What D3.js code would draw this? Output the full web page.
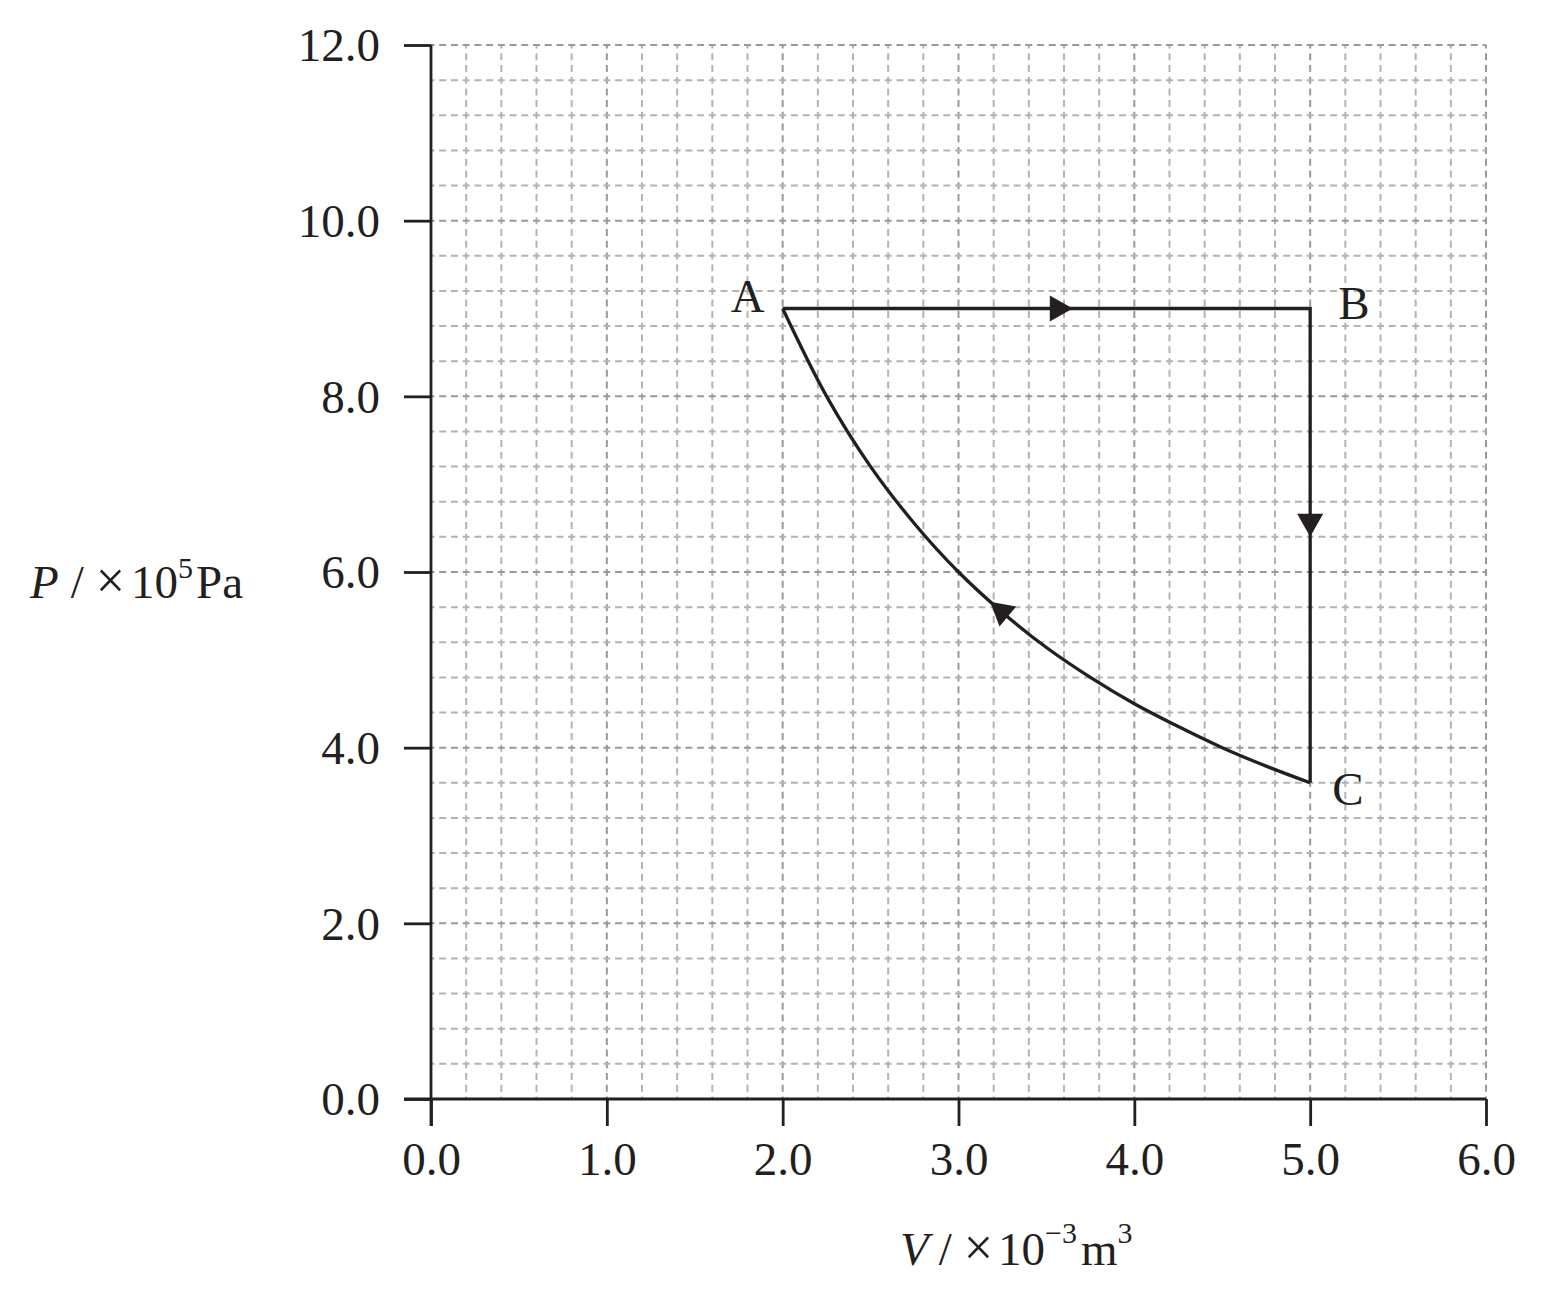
<!DOCTYPE html>
<html><head><meta charset="utf-8">
<script src="https://cdn.jsdelivr.net/npm/d3@7"></script>
<style>body{margin:0;background:#fff}</style>
</head><body>
<script>
// ---- data ----
const xTicks = [0, 1, 2, 3, 4, 5, 6];
const yTicks = [0, 2, 4, 6, 8, 10, 12];
const xMinor = d3.range(0, 30.5, 1).map(i => i * 0.2);
const yMinor = d3.range(0, 30.5, 1).map(i => i * 0.4);
// process A -> B (isobaric), B -> C (isochoric)
const pathAB = [[2.0, 9.0], [5.0, 9.0]];
const pathBC = [[5.0, 9.0], [5.0, 3.6]];
// curve C -> A
const curveV = [2.0, 2.25, 2.5, 2.75, 3.0, 3.25, 3.5, 3.75, 4.0, 4.25, 4.5, 4.75, 5.0];
const curveP = [9.0, 8.0, 7.2, 6.55, 6.0, 5.54, 5.14, 4.8, 4.5, 4.24, 4.0, 3.79, 3.6];
const pointLabels = [{t: "A", v: 2.0, p: 9.0}, {t: "B", v: 5.0, p: 9.0}, {t: "C", v: 5.0, p: 3.6}];
// arrows: tip position and a second point giving direction
const arrows = [
  {tip: [3.65, 9.0], from: [3.5, 9.0]},
  {tip: [5.0, 6.4], from: [5.0, 6.7]},
  {tip: [3.18, 5.66], from: [3.3, 5.46]}
];

const W = 1542, H = 1291;
const svg = d3.select("body").append("svg").attr("width", W).attr("height", H);
const x = d3.scaleLinear().domain([0, 6]).range([431, 1486]);
const y = d3.scaleLinear().domain([0, 12]).range([1099, 45]);
const ink = "#231f20";
const font = "'Liberation Serif', 'Times New Roman', serif";

// grid
const g = svg.append("g");
const per = (x(0.2) - x(0)) / 3;
g.selectAll(".vx").data(xMinor.filter(v => v > 0.01)).join("line")
  .attr("x1", d => x(d)).attr("x2", d => x(d)).attr("y1", y(12)).attr("y2", y(0))
  .attr("stroke", d => Math.abs(d - Math.round(d)) < 1e-6 ? "#999999" : "#b3b3b3")
  .attr("stroke-width", 2)
  .attr("stroke-dasharray", `7,${per - 7}`).attr("stroke-dashoffset", 3.5);
g.selectAll(".hy").data(yMinor.filter(v => v > 0.01)).join("line")
  .attr("y1", d => y(d)).attr("y2", d => y(d)).attr("x1", x(0)).attr("x2", x(6))
  .attr("stroke", d => Math.abs(d / 2 - Math.round(d / 2)) < 1e-6 ? "#999999" : "#b3b3b3")
  .attr("stroke-width", 2)
  .attr("stroke-dasharray", `7,${per - 7}`).attr("stroke-dashoffset", 3.5);

// axes
const xAxis = d3.axisBottom(x).tickValues(xTicks).tickFormat(d3.format(".1f")).tickSize(27).tickPadding(14);
const yAxis = d3.axisLeft(y).tickValues(yTicks).tickFormat(d3.format(".1f")).tickSize(27).tickPadding(24);
const gx = svg.append("g").attr("transform", `translate(0,${y(0)})`).call(xAxis);
const gy = svg.append("g").attr("transform", `translate(${x(0)},0)`).call(yAxis);
[gx, gy].forEach(a => {
  a.select(".domain").remove();
  a.selectAll("line").attr("stroke", ink).attr("stroke-width", 2.8);
  a.selectAll("text").attr("fill", ink).style("font-family", font).style("font-size", "47px");
});
gy.selectAll("text").attr("dy", "0.34em");
gx.selectAll("text").attr("dy", "0.74em");
svg.append("line").attr("x1", x(0) - 27).attr("x2", x(6)).attr("y1", y(0)).attr("y2", y(0))
  .attr("stroke", ink).attr("stroke-width", 2.8);
svg.append("line").attr("x1", x(0)).attr("x2", x(0)).attr("y1", y(12)).attr("y2", y(0) + 27)
  .attr("stroke", ink).attr("stroke-width", 2.8);

// axis titles
const yl = svg.append("text").attr("x", 30).attr("y", 598).attr("fill", ink)
  .style("font-family", font).style("font-size", "47px");
yl.append("tspan").attr("font-style", "italic").text("P");
yl.append("tspan").attr("dx", 12).text("/");
yl.append("tspan").attr("dx", 12).style("font-size", "52px").text("×");
yl.append("tspan").attr("dx", 6).text("10");
yl.append("tspan").attr("dy", -20).style("font-size", "30px").text("5");
yl.append("tspan").attr("dy", 20).attr("dx", 3).text("Pa");

const xl = svg.append("text").attr("x", 900).attr("y", 1265).attr("fill", ink)
  .style("font-family", font).style("font-size", "47px");
xl.append("tspan").attr("font-style", "italic").text("V");
xl.append("tspan").attr("dx", 10).text("/");
xl.append("tspan").attr("dx", 12).style("font-size", "52px").text("×");
xl.append("tspan").attr("dx", 5).text("10");
xl.append("tspan").attr("dy", -22).style("font-size", "30px").text("−3");
xl.append("tspan").attr("dy", 22).attr("dx", 4).text("m");
xl.append("tspan").attr("dy", -22).style("font-size", "30px").text("3");

// process lines
const line = d3.line().x(d => x(d[0])).y(d => y(d[1]));
svg.append("path").attr("d", line([...pathAB, ...pathBC.slice(1)])).attr("fill", "none")
  .attr("stroke", ink).attr("stroke-width", 3.3).attr("stroke-linejoin", "miter");
const curvePts = curveV.map((v, i) => [v, curveP[i]]);
svg.append("path").attr("d", line.curve(d3.curveCatmullRom)(curvePts)).attr("fill", "none")
  .attr("stroke", ink).attr("stroke-width", 3.3);

// arrows
arrows.forEach(a => {
  const tx = x(a.tip[0]), ty = y(a.tip[1]);
  const fx = x(a.from[0]), fy = y(a.from[1]);
  const ang = Math.atan2(ty - fy, tx - fx) * 180 / Math.PI;
  svg.append("path").attr("d", "M0,0 L-23,-13 L-23,13 Z").attr("fill", ink)
    .attr("transform", `translate(${tx},${ty}) rotate(${ang})`);
});

// point labels
const off = {A: [-52, 3], B: [28, 10], C: [22, 22]};
svg.selectAll(".pl").data(pointLabels).join("text")
  .attr("x", d => x(d.v) + off[d.t][0]).attr("y", d => y(d.p) + off[d.t][1])
  .attr("fill", ink).style("font-family", font).style("font-size", "47px").text(d => d.t);
</script>
</body></html>
